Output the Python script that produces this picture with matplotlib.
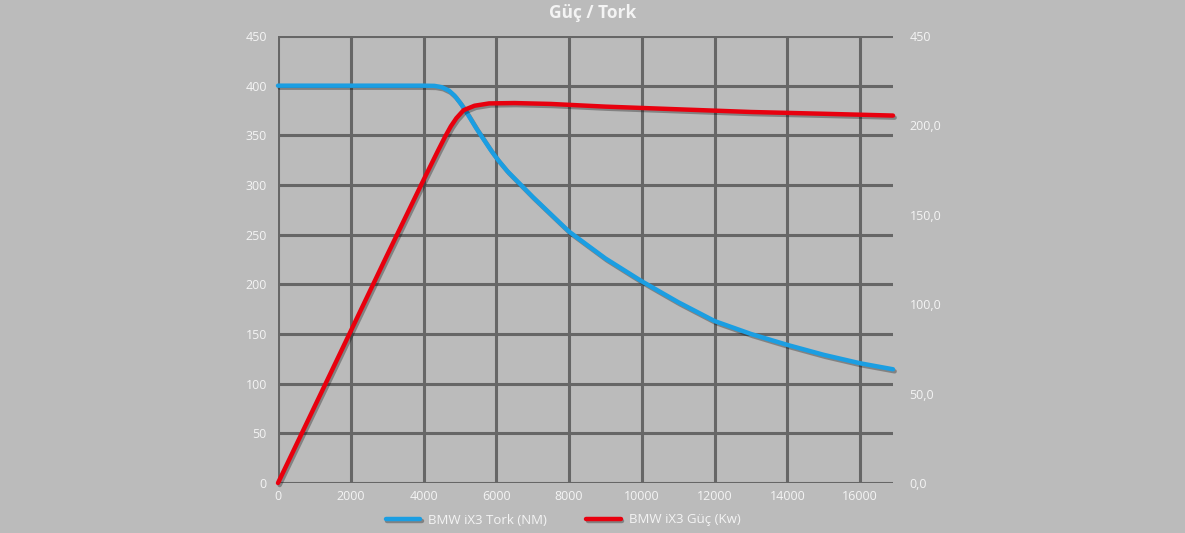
import matplotlib
matplotlib.use("Agg")
import matplotlib.pyplot as plt
import matplotlib.patheffects as pe

# ---- data ----
torque_rpm = [0, 4000, 4300, 4500, 4700, 4850, 5000, 5150, 5300, 5450, 5650, 5850, 6050, 6300, 6650,
              7000, 7400, 8000, 9000, 10000, 11000, 12000, 13000, 14000, 15000, 16000, 16900]
torque_nm = [400, 400, 399.8, 398.5, 395, 390, 383, 375, 366, 357, 346, 335, 325, 314, 301,
             288, 274, 253, 226, 203, 182, 163, 150, 139, 129, 120.5, 114.5]

power_rpm = [0, 1000, 2000, 3000, 4000, 4400, 4600, 4750, 4900, 5100, 5400, 5800,
             6500, 7500, 9000, 11000, 13000, 15000, 16900]
power_kw = [0, 42.5, 85, 127.5, 169.5, 186, 194, 199.5, 204, 208.5, 211, 212.3,
            212.5, 212, 210.5, 209, 207.5, 206.5, 205.5]

x_ticks = [0, 2000, 4000, 6000, 8000, 10000, 12000, 14000, 16000]
left_ticks = [0, 50, 100, 150, 200, 250, 300, 350, 400, 450]
right_ticks = [0, 50, 100, 150, 200, 250]
right_labels = ["0,0", "50,0", "100,0", "150,0", "200,0", "450"]

title = "Güç / Tork"
torque_label = "BMW iX3 Tork (NM)"
power_label = "BMW iX3 Güç (Kw)"

# ---- style ----
bg = "#bbbbbb"
grid_c = "#666666"
txt_c = "#f4f4f4"
blue = "#1b9ee2"
red = "#e8000e"
plt.rcParams['font.family'] = ['Open Sans', 'DejaVu Sans']

fig = plt.figure(figsize=(11.85, 5.33), dpi=100, facecolor=bg)
ax = fig.add_axes([278/1185, 1-483/533, (893-278)/1185, (483-36)/533])
ax.set_facecolor(bg)
ax2 = ax.twinx()

ax.set_xlim(0, 16900)
ax.set_ylim(0, 450)
ax2.set_ylim(0, 250)

ax.set_xticks(x_ticks)
ax.set_yticks(left_ticks)
ax2.set_yticks(right_ticks)
ax2.set_yticklabels(right_labels)

ax.grid(True, color=grid_c, linewidth=2.2, zorder=0)
ax.set_axisbelow(True)
for a in (ax, ax2):
    for s in a.spines.values():
        s.set_visible(False)
ax.tick_params(axis='both', length=0, colors=txt_c, labelsize=9, pad=5)
ax.tick_params(axis='y', pad=8)
ax2.tick_params(axis='y', length=0, colors=txt_c, labelsize=9, pad=12)

shadow = [pe.SimpleLineShadow(offset=(1.2, -1.5), shadow_color='black', alpha=0.3), pe.Normal()]

l1, = ax.plot(torque_rpm, torque_nm, color=blue, linewidth=3.2, solid_capstyle='round',
              solid_joinstyle='round', path_effects=shadow, label=torque_label, zorder=3, clip_on=False)
l2, = ax2.plot(power_rpm, power_kw, color=red, linewidth=3.2, solid_capstyle='round',
               solid_joinstyle='round', path_effects=shadow, label=power_label, zorder=3, clip_on=False)

fig.text(0.5, 1-13/533, title, ha='center', va='center', color=txt_c,
         fontsize=12.5, fontweight='bold')

leg = fig.legend(handles=[l1, l2], loc='center', bbox_to_anchor=(563/1185, 1-520/533),
                 ncol=2, frameon=False, fontsize=9.5, handlelength=2.6,
                 columnspacing=3.0, handletextpad=0.6)
for t in leg.get_texts():
    t.set_color(txt_c)

fig.savefig("out.png", dpi=100, facecolor=bg)
